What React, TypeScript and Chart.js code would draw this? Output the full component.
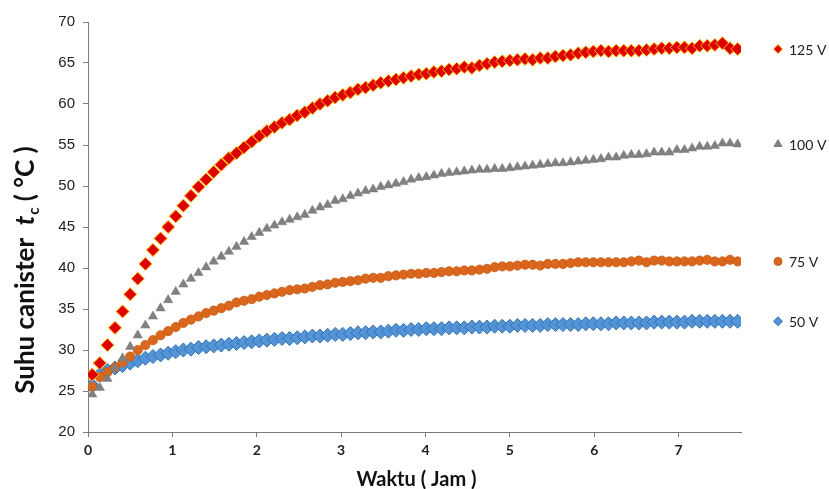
import React, { useEffect, useRef } from 'react';
import { Chart, registerables } from 'chart.js';

Chart.register(...registerables);

// Time in hours
const TIME_H = [
  0.05, 0.14, 0.23, 0.32, 0.41, 0.50, 0.59, 0.68, 0.77, 0.86,
  0.95, 1.04, 1.13, 1.22, 1.31, 1.40, 1.49, 1.58, 1.67, 1.76,
  1.85, 1.94, 2.03, 2.12, 2.21, 2.30, 2.39, 2.48, 2.57, 2.66,
  2.75, 2.84, 2.93, 3.02, 3.11, 3.20, 3.29, 3.38, 3.47, 3.56,
  3.65, 3.74, 3.83, 3.92, 4.01, 4.10, 4.19, 4.28, 4.37, 4.46,
  4.55, 4.64, 4.73, 4.82, 4.91, 5.00, 5.09, 5.18, 5.27, 5.36,
  5.45, 5.54, 5.63, 5.72, 5.81, 5.90, 5.99, 6.08, 6.17, 6.26,
  6.35, 6.44, 6.53, 6.62, 6.71, 6.80, 6.89, 6.98, 7.07, 7.16,
  7.25, 7.34, 7.43, 7.52, 7.61, 7.70,
];

const V125 = [
  27.0, 28.4, 30.6, 32.7, 34.7, 36.8, 38.7, 40.5, 42.2, 43.6,
  45.0, 46.3, 47.6, 48.8, 49.9, 50.8, 51.7, 52.6, 53.4, 54.0,
  54.7, 55.4, 56.1, 56.7, 57.2, 57.7, 58.1, 58.6, 59.0, 59.5,
  60.0, 60.4, 60.8, 61.1, 61.4, 61.8, 62.0, 62.3, 62.6, 62.8,
  63.0, 63.2, 63.4, 63.6, 63.7, 63.9, 64.0, 64.2, 64.3, 64.5,
  64.4, 64.7, 64.9, 65.1, 65.2, 65.3, 65.4, 65.5, 65.4, 65.6,
  65.6, 65.8, 65.9, 66.0, 66.2, 66.3, 66.4, 66.5, 66.4, 66.5,
  66.5, 66.5, 66.5, 66.6, 66.7, 66.8, 66.8, 66.9, 66.9, 66.8,
  67.1, 67.1, 67.2, 67.4, 66.8, 66.7,
];

const V100 = [
  24.6, 25.4, 26.5, 27.8, 29.0, 30.4, 31.8, 33.0, 34.1, 35.1,
  36.1, 37.1, 38.0, 38.7, 39.4, 40.1, 40.8, 41.4, 42.0, 42.6,
  43.2, 43.8, 44.3, 44.8, 45.2, 45.6, 45.9, 46.2, 46.5, 47.0,
  47.4, 47.7, 48.2, 48.4, 48.8, 49.1, 49.4, 49.6, 49.9, 50.1,
  50.3, 50.5, 50.8, 51.0, 51.1, 51.3, 51.5, 51.6, 51.7, 51.8,
  51.9, 52.0, 52.0, 52.1, 52.1, 52.2, 52.3, 52.4, 52.5, 52.6,
  52.7, 52.8, 52.8, 52.9, 53.0, 53.1, 53.2, 53.3, 53.5, 53.5,
  53.7, 53.8, 53.8, 53.9, 54.1, 54.1, 54.1, 54.4, 54.4, 54.6,
  54.8, 54.8, 54.9, 55.2, 55.2, 55.1,
];

const V75 = [
  25.5, 26.7, 27.3, 27.9, 28.5, 29.2, 30.0, 30.6, 31.2, 31.8,
  32.3, 32.8, 33.3, 33.7, 34.1, 34.5, 34.8, 35.1, 35.4, 35.8,
  36.0, 36.2, 36.5, 36.7, 36.9, 37.1, 37.3, 37.4, 37.5, 37.7,
  37.9, 38.0, 38.2, 38.3, 38.4, 38.5, 38.7, 38.8, 38.8, 39.0,
  39.1, 39.2, 39.3, 39.3, 39.4, 39.4, 39.5, 39.6, 39.6, 39.7,
  39.7, 39.8, 39.9, 40.1, 40.2, 40.2, 40.3, 40.4, 40.4, 40.3,
  40.5, 40.5, 40.5, 40.6, 40.7, 40.7, 40.7, 40.7, 40.7, 40.7,
  40.7, 40.8, 40.9, 40.7, 40.9, 40.9, 40.8, 40.8, 40.8, 40.8,
  40.9, 41.0, 40.8, 40.8, 41.0, 40.8,
];

const V50 = [
  25.7, 27.0, 27.5, 27.8, 28.1, 28.4, 28.7, 29.0, 29.2, 29.4,
  29.6, 29.8, 30.0, 30.1, 30.3, 30.4, 30.5, 30.6, 30.7, 30.8,
  30.9, 31.0, 31.1, 31.2, 31.3, 31.4, 31.4, 31.5, 31.6, 31.7,
  31.7, 31.8, 31.9, 31.9, 32.0, 32.1, 32.1, 32.2, 32.2, 32.3,
  32.4, 32.4, 32.5, 32.5, 32.6, 32.6, 32.6, 32.7, 32.7, 32.7,
  32.8, 32.8, 32.8, 32.9, 32.9, 32.9, 33.0, 33.0, 33.0, 33.0,
  33.1, 33.1, 33.1, 33.1, 33.1, 33.2, 33.2, 33.2, 33.2, 33.3,
  33.3, 33.3, 33.3, 33.3, 33.4, 33.4, 33.4, 33.4, 33.4, 33.5,
  33.5, 33.5, 33.5, 33.5, 33.5, 33.5,
];

const SERIES_LABELS = ['125 V', '100 V', '75 V', '50 V'];
const X_TICKS = [0, 1, 2, 3, 4, 5, 6, 7];
const Y_TICKS = [20, 25, 30, 35, 40, 45, 50, 55, 60, 65, 70];
const X_TITLE = 'Waktu ( Jam )';
const Y_TITLE_PRE = 'Suhu canister  ';
const Y_TITLE_VAR = 't';
const Y_TITLE_SUB = 'c';
const Y_TITLE_POST = ' ( °C )';

const toPoints = (vals: number[]) => vals.map((v, i) => ({ x: TIME_H[i], y: v }));

const AXIS_COLOR = '#7a7a7a';

const textPlugin = {
  id: 'customText',
  afterDraw(chart: any) {
    const ctx = chart.ctx as CanvasRenderingContext2D;
    const area = chart.chartArea;
    const yScale = chart.scales.y;
    ctx.save();
    // X title
    ctx.fillStyle = '#111';
    ctx.font = 'bold 20px Lato';
    ctx.textAlign = 'center';
    ctx.textBaseline = 'alphabetic';
    ctx.fillText(X_TITLE, (area.left + area.right) / 2 + 2, 486);

    // Y title (rotated, with italic t and subscript c)
    const fMain = 'bold 26px Lato';
    const fVar = 'bold italic 26px Lato';
    const fSub = 'bold 15px Lato';
    ctx.font = fMain;
    const w1 = ctx.measureText(Y_TITLE_PRE).width;
    const w4 = ctx.measureText(Y_TITLE_POST).width;
    ctx.font = fVar;
    const w2 = ctx.measureText(Y_TITLE_VAR).width + 1;
    ctx.font = fSub;
    const w3 = ctx.measureText(Y_TITLE_SUB).width;
    const total = w1 + w2 + w3 + w4;
    ctx.translate(34, 270);
    ctx.rotate(-Math.PI / 2);
    ctx.textAlign = 'left';
    let xx = -total / 2;
    ctx.font = fMain;
    ctx.fillText(Y_TITLE_PRE, xx, 0);
    xx += w1;
    ctx.font = fVar;
    ctx.fillText(Y_TITLE_VAR, xx, 0);
    xx += w2;
    ctx.font = fSub;
    ctx.fillText(Y_TITLE_SUB, xx, 5);
    xx += w3;
    ctx.font = fMain;
    ctx.fillText(Y_TITLE_POST, xx, 0);
    ctx.restore();

    // Legend beside the last point of each series
    ctx.save();
    chart.data.datasets.forEach((ds: any, i: number) => {
      const last = ds.data[ds.data.length - 1];
      const py = yScale.getPixelForValue(last.y);
      const mx = 778;
      ctx.fillStyle = ds.backgroundColor;
      ctx.strokeStyle = ds.borderColor;
      ctx.lineWidth = 1;
      ctx.beginPath();
      const style = ds.pointStyle;
      if (style === 'rectRot') {
        const r = 4.5;
        ctx.moveTo(mx, py - r);
        ctx.lineTo(mx + r, py);
        ctx.lineTo(mx, py + r);
        ctx.lineTo(mx - r, py);
        ctx.closePath();
      } else if (style === 'triangle') {
        const r = 4.5;
        ctx.moveTo(mx, py - r);
        ctx.lineTo(mx + r * 0.866, py + r * 0.5);
        ctx.lineTo(mx - r * 0.866, py + r * 0.5);
        ctx.closePath();
      } else {
        ctx.arc(mx, py, 4, 0, Math.PI * 2);
      }
      ctx.fill();
      ctx.stroke();
      ctx.fillStyle = '#222';
      ctx.font = '14px Lato';
      ctx.textAlign = 'left';
      ctx.textBaseline = 'middle';
      ctx.fillText(SERIES_LABELS[i], 789, py + 1);
    });
    ctx.restore();
  },
};

export default function App() {
  const ref = useRef<HTMLCanvasElement | null>(null);
  useEffect(() => {
    if (!ref.current) return;
    const chart = new Chart(ref.current, {
      type: 'scatter',
      data: {
        datasets: [
          {
            label: SERIES_LABELS[0],
            data: toPoints(V125),
            pointStyle: 'rectRot',
            pointRadius: 6.5,
            backgroundColor: '#dc0000',
            borderColor: '#ffb400',
            borderWidth: 1,
          },
          {
            label: SERIES_LABELS[1],
            data: toPoints(V100),
            pointStyle: 'triangle',
            pointRadius: 5.4,
            backgroundColor: '#808080',
            borderColor: '#7a7a7a',
            borderWidth: 0.5,
          },
          {
            label: SERIES_LABELS[2],
            data: toPoints(V75),
            pointStyle: 'circle',
            pointRadius: 4.6,
            backgroundColor: '#db671e',
            borderColor: '#c75a12',
            borderWidth: 0.8,
          },
          {
            label: SERIES_LABELS[3],
            data: toPoints(V50),
            pointStyle: 'rectRot',
            pointRadius: 7,
            backgroundColor: '#5294d6',
            borderColor: '#3471b5',
            borderWidth: 1,
          },
        ] as any,
      },
      options: {
        responsive: false,
        animation: false,
        devicePixelRatio: 1,
        layout: { padding: { top: 22, right: 88, bottom: 0, left: 0 } },
        plugins: {
          legend: { display: false },
          tooltip: { enabled: false },
        },
        scales: {
          x: {
            type: 'linear',
            min: 0,
            max: 7.74,
            afterFit: (s: any) => { s.height = 57; },
            afterBuildTicks: (s: any) => {
              s.ticks = X_TICKS.map((v) => ({ value: v }));
            },
            ticks: {
              color: '#222',
              font: { family: 'Lato', size: 14, weight: 'bold' },
              padding: 5,
              maxRotation: 0,
            },
            grid: {
              drawOnChartArea: false,
              drawTicks: true,
              tickLength: 5,
              color: AXIS_COLOR,
            },
            border: { display: true, color: AXIS_COLOR, width: 1 },
          },
          y: {
            type: 'linear',
            min: 20,
            max: 70,
            afterFit: (s: any) => { s.width = 88; },
            afterBuildTicks: (s: any) => {
              s.ticks = Y_TICKS.map((v) => ({ value: v }));
            },
            ticks: {
              color: '#222',
              font: { family: 'Liberation Sans', size: 15 },
              padding: 8,
            },
            grid: {
              drawOnChartArea: false,
              drawTicks: true,
              tickLength: 5,
              color: AXIS_COLOR,
            },
            border: { display: true, color: AXIS_COLOR, width: 1 },
          },
        },
      } as any,
      plugins: [textPlugin],
    });
    return () => chart.destroy();
  }, []);
  return (
    <div style={{ position: 'absolute', left: 0, top: 0, width: 829, height: 489, background: '#fff' }}>
      <canvas ref={ref} width={829} height={489} />
    </div>
  );
}
